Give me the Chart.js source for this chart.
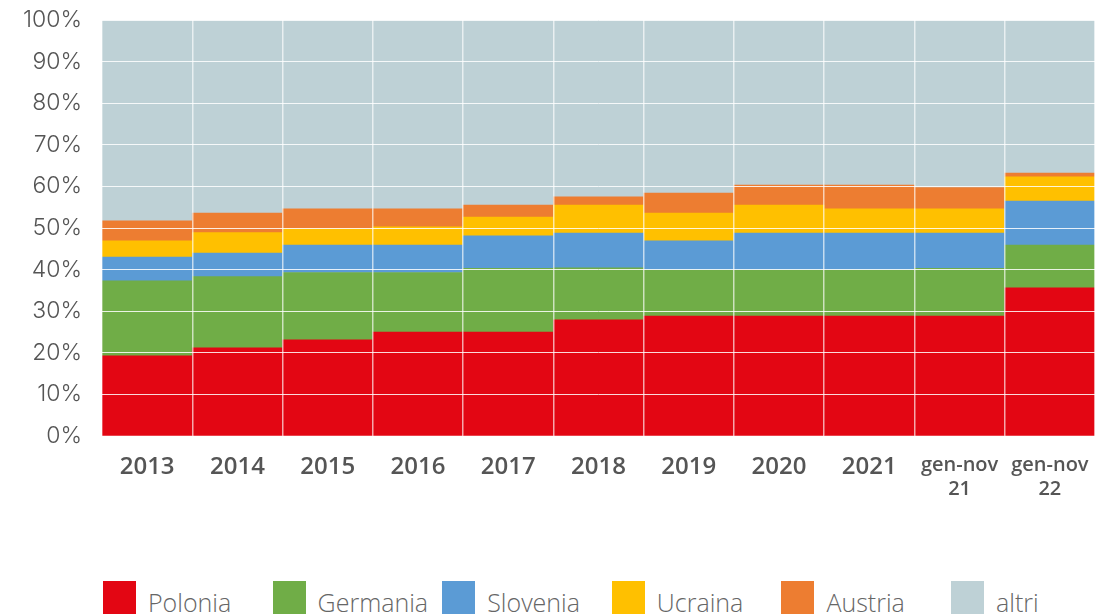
<!DOCTYPE html>
<html>
<head>
<meta charset="utf-8">
<script src="https://cdn.jsdelivr.net/npm/chart.js@4.4.1/dist/chart.umd.min.js"></script>
<style>
  body { margin: 0; background: #fff; overflow: hidden; }
  #wrap { position: absolute; left: 0; top: 0; width: 1095px; height: 518px; }
  #legend { position: absolute; left: 0; top: 581px; width: 1095px; height: 35px; }
  .item { position: absolute; top: 0; height: 33px; display: flex; align-items: flex-end; }
  .box { width: 33px; height: 33px; margin-right: 12px; }
  .txt { font-family: "Open Sans", sans-serif; font-weight: 300; font-size: 25px; color: #666; line-height: 25px; margin-bottom: -1px; white-space: nowrap; }
</style>
</head>
<body>
<div id="wrap"><canvas id="chart"></canvas></div>
<div id="legend"></div>
<script>
var categories = ['2013', '2014', '2015', '2016', '2017', '2018', '2019', '2020', '2021', ['gen-nov', '21'], ['gen-nov', '22']];
var seriesNames = ['Polonia', 'Germania', 'Slovenia', 'Ucraina', 'Austria', 'altri'];
var seriesColors = ['#E30613', '#70AD47', '#5B9BD5', '#FFC000', '#ED7D31', '#BED1D6'];

var polonia  = [19.3, 21.2, 23.1, 25.0, 25.0, 27.9, 28.8, 28.8, 28.8, 28.8, 35.6];
var germania = [18.0, 17.1, 16.2, 14.3, 15.3, 12.5, 11.1, 11.1, 11.1, 11.5, 10.3];
var slovenia = [5.7, 5.7, 6.6, 6.6, 7.8, 8.4, 7.0, 8.9, 8.9, 8.5, 10.6];
var ucraina  = [3.9, 4.9, 3.9, 4.4, 4.5, 6.7, 6.7, 6.7, 5.8, 5.8, 5.8];
var austria  = [4.8, 4.7, 4.8, 4.3, 2.9, 2.0, 4.8, 4.8, 5.7, 5.1, 0.9];
var altri    = [48.3, 46.4, 45.4, 45.4, 44.5, 42.5, 41.6, 39.7, 39.7, 40.3, 36.8];

var seriesValues = [polonia, germania, slovenia, ucraina, austria, altri];

function makeChart() {
    var datasets = seriesNames.map(function(name, i) {
        return {
            label: name,
            data: seriesValues[i],
            backgroundColor: seriesColors[i],
            borderWidth: 0,
            categoryPercentage: 1.0,
            barPercentage: 1.0
        };
    });

    var ctx = document.getElementById('chart').getContext('2d');
    new Chart(ctx, {
        type: 'bar',
        data: { labels: categories, datasets: datasets },
        options: {
            responsive: true,
            maintainAspectRatio: false,
            animation: false,
            layout: { padding: { top: 20, right: 0, bottom: 0, left: 0 } },
            plugins: {
                legend: { display: false },
                tooltip: { enabled: false }
            },
            scales: {
                x: {
                    stacked: true,
                    border: { display: false },
                    grid: { z: 1, color: 'rgba(255,255,255,0.65)', lineWidth: 1.5, drawTicks: false, offset: true },
                    ticks: {
                        padding: 17,
                        color: '#555',
                        font: function(c) {
                            var big = c.index < 9;
                            return { family: '"Open Sans", sans-serif', weight: '600', size: big ? 24 : 20, lineHeight: 1.2 };
                        },
                        maxRotation: 0,
                        autoSkip: false
                    },
                    afterFit: function(scale) { scale.paddingLeft = 0; scale.paddingRight = 0; }
                },
                y: {
                    stacked: true,
                    min: 0,
                    max: 100,
                    border: { display: false },
                    grid: { z: 1, color: 'rgba(255,255,255,0.85)', lineWidth: 1, drawTicks: false },
                    ticks: {
                        stepSize: 10,
                        padding: 20,
                        color: '#555',
                        font: { family: 'Inter, sans-serif', weight: '300', size: 23 },
                        callback: function(v) { return v + '%'; }
                    },
                    afterFit: function(scale) { scale.width = 102; scale.paddingTop = 0; scale.paddingBottom = 0; }
                }
            }
        }
    });
}

function makeLegend() {
    var legend = document.getElementById('legend');
    seriesNames.forEach(function(name, i) {
        var item = document.createElement('div');
        item.className = 'item';
        item.style.left = (103 + i * 169.6) + 'px';
        var box = document.createElement('div');
        box.className = 'box';
        box.style.background = seriesColors[i];
        var txt = document.createElement('span');
        txt.className = 'txt';
        txt.textContent = name;
        item.appendChild(box);
        item.appendChild(txt);
        legend.appendChild(item);
    });
}

window.onload = function() {
    makeChart();
    makeLegend();
};
</script>
</body>
</html>
